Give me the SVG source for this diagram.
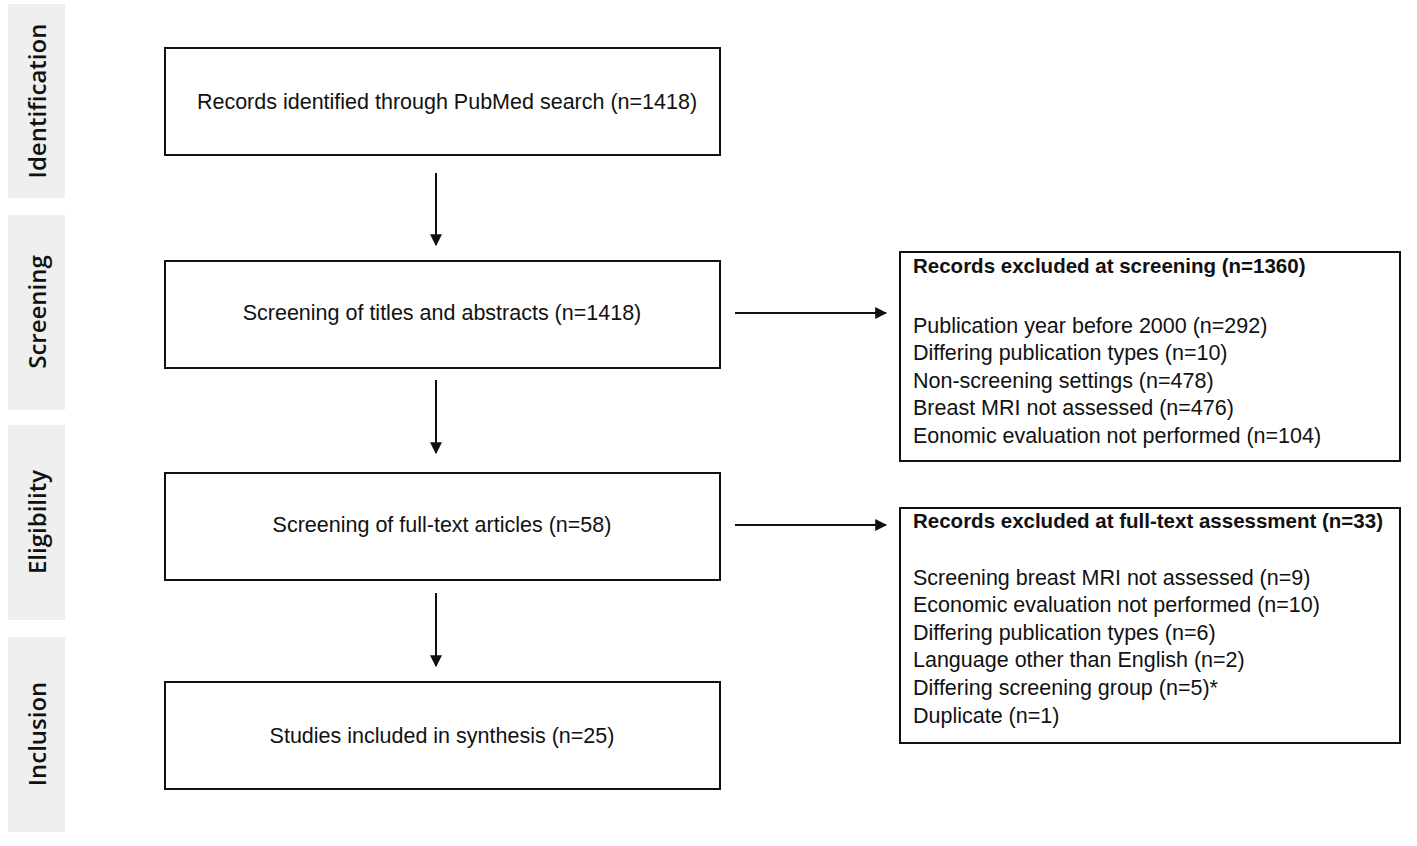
<svg xmlns="http://www.w3.org/2000/svg" width="1417" height="846" viewBox="0 0 1417 846">
<style>
.side{fill:#efefef}
.sl{font-family:"Open Sans","Liberation Sans",sans-serif;font-size:24px;font-weight:600;fill:#111;text-anchor:middle}
.box{fill:#fff;stroke:#111;stroke-width:2}
.t{font-family:"Liberation Sans",Arial,sans-serif;font-size:21.5px;fill:#111}
.c{text-anchor:middle}
.b{font-weight:bold;font-size:20.5px}
.ln{stroke:#111;stroke-width:2;fill:none}
</style>
<defs>
<marker id="ah" viewBox="0 0 10 10" refX="9" refY="5" markerWidth="6" markerHeight="6" markerUnits="strokeWidth" orient="auto">
<path d="M0,0 L10,5 L0,10 z" fill="#111"/>
</marker>
</defs>
<rect width="1417" height="846" fill="#fff"/>
<g id="phase-identification"><rect class="side" x="8" y="4" width="57" height="194"/><text class="sl" transform="translate(46,101) rotate(-90)">Identification</text></g>
<g id="phase-screening"><rect class="side" x="8" y="215" width="57" height="195"/><text class="sl" transform="translate(46,312) rotate(-90)">Screening</text></g>
<g id="phase-eligibility"><rect class="side" x="8" y="425" width="57" height="195"/><text class="sl" transform="translate(46,522) rotate(-90)">Eligibility</text></g>
<g id="phase-inclusion"><rect class="side" x="8" y="637" width="57" height="195"/><text class="sl" transform="translate(46,734) rotate(-90)">Inclusion</text></g>

<g id="identified"><rect class="box" x="165" y="48" width="555" height="107"/><text class="t c" x="447" y="109">Records identified through PubMed search (n=1418)</text></g>
<g id="screening"><rect class="box" x="165" y="261" width="555" height="107"/><text class="t c" x="442" y="320">Screening of titles and abstracts (n=1418)</text></g>
<g id="fulltext"><rect class="box" x="165" y="473" width="555" height="107"/><text class="t c" x="442" y="532">Screening of full-text articles (n=58)</text></g>
<g id="included"><rect class="box" x="165" y="682" width="555" height="107"/><text class="t c" x="442" y="743">Studies included in synthesis (n=25)</text></g>

<g id="excluded-screening"><rect class="box" x="900" y="252" width="500" height="209"/>
<text class="t b" x="913" y="273">Records excluded at screening (n=1360)</text>
<text class="t" x="913" y="333">Publication year before 2000 (n=292)</text>
<text class="t" x="913" y="360">Differing publication types (n=10)</text>
<text class="t" x="913" y="388">Non-screening settings (n=478)</text>
<text class="t" x="913" y="415">Breast MRI not assessed (n=476)</text>
<text class="t" x="913" y="443">Eonomic evaluation not performed (n=104)</text>
</g>
<g id="excluded-fulltext"><rect class="box" x="900" y="508" width="500" height="235"/>
<text class="t b" x="913" y="528">Records excluded at full-text assessment (n=33)</text>
<text class="t" x="913" y="585">Screening breast MRI not assessed (n=9)</text>
<text class="t" x="913" y="612">Economic evaluation not performed (n=10)</text>
<text class="t" x="913" y="640">Differing publication types (n=6)</text>
<text class="t" x="913" y="667">Language other than English (n=2)</text>
<text class="t" x="913" y="695">Differing screening group (n=5)*</text>
<text class="t" x="913" y="723">Duplicate (n=1)</text>
</g>

<g id="connectors">
<line class="ln" x1="436" y1="173" x2="436" y2="245" marker-end="url(#ah)"/>
<line class="ln" x1="436" y1="380" x2="436" y2="453" marker-end="url(#ah)"/>
<line class="ln" x1="436" y1="593" x2="436" y2="666" marker-end="url(#ah)"/>
<line class="ln" x1="735" y1="313" x2="886" y2="313" marker-end="url(#ah)"/>
<line class="ln" x1="735" y1="525" x2="886" y2="525" marker-end="url(#ah)"/>
</g>
</svg>
